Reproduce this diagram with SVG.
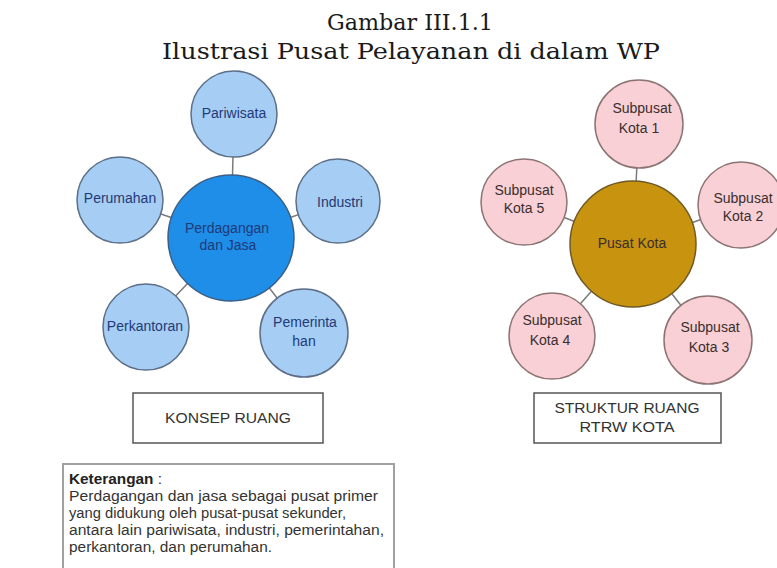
<svg xmlns="http://www.w3.org/2000/svg" width="777" height="568" viewBox="0 0 777 568">
<style>
.title{font-family:"DejaVu Serif","Liberation Serif",serif;font-size:22px;fill:#1a1a1a;text-anchor:middle}
.lbl{font-family:"Liberation Sans",Arial,sans-serif;font-size:14px;text-anchor:middle}
.blue{fill:#a6cdf3;stroke:#5d6f88;stroke-width:1.5}
.bluec{fill:#1e8ee8;stroke:#3b5f86;stroke-width:1.5}
.pink{fill:#f8d0d5;stroke:#8d7474;stroke-width:1.5}
.gold{fill:#c8930f;stroke:#6f5a25;stroke-width:1.5}
.tb{fill:#1f3a78}
.tr{fill:#3a2e2e}
.conn line{stroke:#7a7a7a;stroke-width:1.5}
.box{fill:#fff;stroke:#555;stroke-width:1.5}
.note{fill:#fff;stroke:#a0a0a0;stroke-width:2}
.bt{font-family:"Liberation Sans",Arial,sans-serif;font-size:14px;fill:#333}
</style>
<rect width="777" height="568" fill="#fff"/>
<g id="title">
<text class="title" x="410" y="30" textLength="166" lengthAdjust="spacingAndGlyphs">Gambar III.1.1</text>
<text class="title" x="411" y="59" textLength="498" lengthAdjust="spacingAndGlyphs">Ilustrasi Pusat Pelayanan di dalam WP</text>
</g>
<g id="connectors" class="conn">
<line x1="231" y1="238" x2="234" y2="114"/>
<line x1="231" y1="238" x2="120" y2="200"/>
<line x1="231" y1="238" x2="338" y2="201"/>
<line x1="231" y1="238" x2="146" y2="327"/>
<line x1="231" y1="238" x2="304" y2="333"/>
<line x1="633" y1="244" x2="639" y2="124"/>
<line x1="633" y1="244" x2="524" y2="202"/>
<line x1="633" y1="244" x2="741" y2="205"/>
<line x1="633" y1="244" x2="552" y2="336"/>
<line x1="633" y1="244" x2="708" y2="340"/>
</g>
<g id="pariwisata"><circle class="blue" cx="234" cy="114" r="43"/><text class="lbl tb" x="234" y="118">Pariwisata</text></g>
<g id="perumahan"><circle class="blue" cx="120" cy="200" r="43"/><text class="lbl tb" x="120" y="203">Perumahan</text></g>
<g id="industri"><circle class="blue" cx="338" cy="201" r="42"/><text class="lbl tb" x="340" y="207">Industri</text></g>
<g id="perkantoran"><circle class="blue" cx="146" cy="327" r="43"/><text class="lbl tb" x="145" y="331">Perkantoran</text></g>
<g id="pemerintahan"><circle class="blue" cx="304" cy="333" r="44"/><text class="lbl tb" x="305" y="327">Pemerinta</text><text class="lbl tb" x="304" y="346">han</text></g>
<g id="perdagangan"><circle class="bluec" cx="231" cy="238" r="63"/><text class="lbl tb" x="227" y="233">Perdagangan</text><text class="lbl tb" x="228" y="250">dan Jasa</text></g>
<g id="kota1"><circle class="pink" cx="639" cy="124" r="44"/><text class="lbl tr" x="642" y="113">Subpusat</text><text class="lbl tr" x="639" y="133">Kota 1</text></g>
<g id="kota5"><circle class="pink" cx="524" cy="202" r="43"/><text class="lbl tr" x="524" y="195">Subpusat</text><text class="lbl tr" x="524" y="213">Kota 5</text></g>
<g id="kota2"><circle class="pink" cx="741" cy="205" r="43"/><text class="lbl tr" x="743" y="203">Subpusat</text><text class="lbl tr" x="743" y="221">Kota 2</text></g>
<g id="kota4"><circle class="pink" cx="552" cy="336" r="43"/><text class="lbl tr" x="552" y="325">Subpusat</text><text class="lbl tr" x="550" y="345">Kota 4</text></g>
<g id="kota3"><circle class="pink" cx="708" cy="340" r="44"/><text class="lbl tr" x="710" y="332">Subpusat</text><text class="lbl tr" x="709" y="352">Kota 3</text></g>
<g id="pusatkota"><circle class="gold" cx="633" cy="244" r="63"/><text class="lbl tr" x="632" y="248">Pusat Kota</text></g>
<g id="konsep"><rect class="box" x="133" y="393" width="190" height="50"/><text class="bt" x="228" y="423" text-anchor="middle" textLength="126" lengthAdjust="spacingAndGlyphs">KONSEP RUANG</text></g>
<g id="struktur"><rect class="box" x="534" y="393" width="187" height="50"/><text class="bt" x="627" y="413" text-anchor="middle" textLength="145" lengthAdjust="spacingAndGlyphs">STRUKTUR RUANG</text><text class="bt" x="627" y="432" text-anchor="middle" textLength="95" lengthAdjust="spacingAndGlyphs">RTRW KOTA</text></g>
<g id="keterangan"><rect class="note" x="63" y="464" width="331" height="112"/>
<text class="bt" x="69" y="484" textLength="93" lengthAdjust="spacingAndGlyphs"><tspan font-weight="bold" fill="#222">Keterangan</tspan> :</text>
<text class="bt" x="69" y="501" textLength="309" lengthAdjust="spacingAndGlyphs">Perdagangan dan jasa sebagai pusat primer</text>
<text class="bt" x="69" y="518" textLength="277" lengthAdjust="spacingAndGlyphs">yang didukung oleh pusat-pusat sekunder,</text>
<text class="bt" x="69" y="535" textLength="315" lengthAdjust="spacingAndGlyphs">antara lain pariwisata, industri, pemerintahan,</text>
<text class="bt" x="69" y="552" textLength="203" lengthAdjust="spacingAndGlyphs">perkantoran, dan perumahan.</text>
</g>
</svg>
